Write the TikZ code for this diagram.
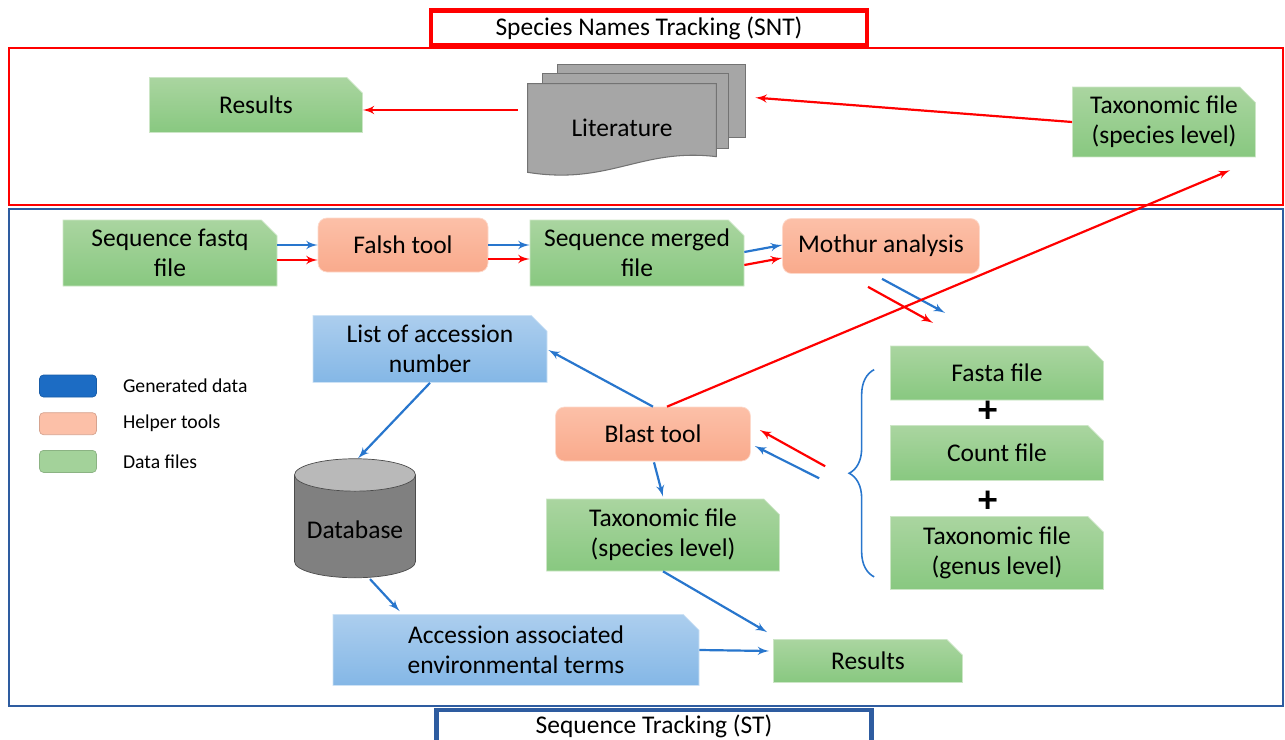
\documentclass[tikz,border=0pt]{standalone}
\usepackage{fontspec}
\setmainfont{Carlito}
\usetikzlibrary{shapes,arrows,positioning,calc,backgrounds,decorations.pathreplacing}
\definecolor{filetop}{RGB}{170,213,160}
\definecolor{filebot}{RGB}{136,200,128}
\definecolor{datatop}{RGB}{172,206,238}
\definecolor{databot}{RGB}{132,183,230}
\definecolor{tooltop}{RGB}{252,192,168}
\definecolor{toolbot}{RGB}{249,170,140}
\definecolor{lineblue}{RGB}{40,118,205}
\definecolor{linered}{RGB}{255,0,0}
\definecolor{frameblue}{RGB}{46,92,160}
\definecolor{legendblue}{RGB}{28,108,196}
\definecolor{pagegray}{RGB}{166,166,166}

\begin{document}
\begin{tikzpicture}[
	x=0.02cm, y=-0.02cm,
	>=latex',
	font=\fontsize{14.5}{17}\selectfont,
	sz/.style 2 args={
		minimum width=#1*0.02cm,
		minimum height=#2*0.02cm
	},
	card/.style={
		chamfered rectangle,
		chamfered rectangle corners=north east,
		chamfered rectangle xsep=0.2cm,
		top color=#1top,
		bottom color=#1bot,
		draw=#1top!60!white,
		align=center,
		inner sep=2pt
	},
	card/.default=file,
	helper/.style={
		rectangle,
		rounded corners=0.18cm,
		top color=tooltop,
		bottom color=toolbot,
		draw=tooltop!60!white,
		align=center
	},
	titlebox/.style={
		rectangle,
		fill=white,
		line width=2.4pt,
		inner sep=0pt
	},
	litpage/.style={
		fill=pagegray,
		draw=gray!90!black,
		line width=0.6pt
	},
	blueline/.style={
		draw=lineblue,
		-latex',
		line width=1.25pt
	},
	redline/.style={
		draw=linered,
		-latex',
		line width=1.25pt
	},
	legbox/.style={
		rectangle,
		rounded corners=0.08cm,
		sz={57}{22},
		fill=#1,
		draw=#1!85!black
	},
	legtext/.style={
		anchor=west,
		font=\fontsize{11.2}{13}\selectfont
	},
	plus/.style={
		font=\fontsize{22}{22}\selectfont\bfseries
	}
	]
	\useasboundingbox (0,0) rectangle (1285,740);
	
	% Species Names Tracking frame
	\draw[linered, line width=0.8pt] (9,48) rectangle (1283,205);
	\node[titlebox, draw=linered, sz={436}{35}] (snt) at (649,28) {Species Names Tracking (SNT)};
	
	\node[card, sz={213}{55}] (res1) at (256,105) {Results};
	\node[sz={188}{88}] (lit) at (622,128) {Literature};
	\node[card, sz={183}{69}] (taxsp1) at (1164,122) {Taxonomic file\\(species level)};
	
	% Literature pages
	\begin{scope}[on background layer]
		\foreach \dx/\dy/\w/\h in {30/-19/188/73, 15/-10/186/75}
			\draw[litpage] ($(lit.north west)+(\dx,\dy)$) rectangle ++(\w,\h);
		\draw[litpage] (lit.north west) -- (lit.north east) -- ($(lit.north east)+(0,73)$)
			.. controls ($(lit.north east)+(-76,64)$) and ($(lit.south west)+(82,13)$) .. (lit.south west) -- cycle;
	\end{scope}
	
	\path[redline] ($(lit.west)+(-10,-18)$) coordinate (litw) -- (litw -| res1.east);
	\path[redline] (taxsp1.west) -- ($(lit.north east)+(39,14)$);
	
	% Sequence Tracking frame
	\draw[frameblue, line width=0.8pt] (9,209) rectangle (1283,706);
	\node[titlebox, draw=frameblue, sz={435}{32}] (st) at (654,726) {Sequence Tracking (ST)};
	
	% Top row
	\node[card, sz={214}{66}] (fastq) at (170,253) {Sequence fastq\\file};
	\node[helper, sz={170}{54}] (falsh) at (403,245) {Falsh tool};
	\node[card, sz={214}{66}] (merged) at (637,253) {Sequence merged\\file};
	\node[helper, sz={197}{55}] (mothur) at (881,246) {Mothur analysis};
	
	\path[blueline] ($(fastq.east)+(0,-8)$) -- (falsh.west);
	\path[redline] ($(fastq.east)+(0,7)$) -- ($(falsh.west)+(0,15)$);
	\path[blueline] (falsh.east) -- ($(merged.west)+(0,-8)$);
	\path[redline] ($(falsh.east)+(0,14)$) -- ($(merged.west)+(0,6)$);
	\path[blueline] ($(merged.east)+(0,-1)$) -- ($(mothur.west)+(0,-1)$);
	\path[redline] ($(merged.east)+(0,12)$) -- ($(mothur.west)+(0,12)$);
	\path[blueline] ($(mothur.south)+(1,5)$) -- ($(mothur.south)+(64,39)$);
	\path[redline] ($(mothur.south)+(-13,13)$) -- ($(mothur.south)+(52,49)$);
	
	% Legend
	\node[legbox=legendblue] (lg1) at (68,386) {};
	\node[legtext, right=0.4cm of lg1] {Generated data};
	\node[legbox=tooltop, below=0.3cm of lg1] (lg2) {};
	\node[legtext, right=0.4cm of lg2] {Helper tools};
	\node[legbox=filetop!80!filebot, below=0.3cm of lg2] (lg3) {};
	\node[legtext, right=0.4cm of lg3] {Data files};
	
	% Blast part
	\node[card=data, sz={234}{67}] (listacc) at (430,349) {List of accession\\number};
	\node[helper, sz={195}{54}] (blast) at (653,434) {Blast tool};
	\node[card, sz={233}{72}] (taxsp2) at (663,535) {Taxonomic file\\(species level)};
	
	\node[card, sz={213}{54}] (fasta) at (997,373) {Fasta file};
	\node[plus] (plus1) at (988,412) {+};
	\node[card, sz={213}{55}] (count) at (997,453) {Count file};
	\node[plus] (plus2) at (988,502) {+};
	\node[card, sz={213}{73}] (taxgen) at (997,553) {Taxonomic file\\(genus level)};
	
	\coordinate (bb) at ($(taxgen.south west)+(-16,-13)$);
	\coordinate (bt) at ($(fasta.north west)+(-16,24)$);
	\coordinate (bm) at ($(bb)!0.5!(bt)+(-27,0)$);
	\draw[lineblue, line width=0.9pt, decorate, decoration={brace, amplitude=0.5cm}] (bb) -- (bt);
	
	\path[redline] ($(bm)+(-22,-7)$) -- ($(blast.east)+(9,-4)$);
	\path[blueline] ($(bm)+(-28,5)$) -- ($(blast.east)+(4,12)$);
	\path[redline] ($(blast.north)+(14,0)$) -- ($(taxsp1.south)+(66,13)$);
	\path[blueline] (blast.north) -- ($(listacc.east)+(1,1)$);
	\path[blueline] ($(blast.south)+(1,1)$) -- ($(taxsp2.north)+(0,-2)$);
	
	% Database part
	\node[cylinder, shape border rotate=90, aspect=0.3, sz={121}{119},
	cylinder uses custom fill, cylinder body fill=gray, cylinder end fill=gray!55,
	draw=gray!60!black] (db) at (355,530) {Database};
	\node[card=data, sz={366}{71}] (accenv) at (516,650) {Accession associated\\environmental terms};
	\node[card, sz={189}{43}] (res2) at (868,661) {Results};
	
	\path[blueline] (listacc.south) -- ($(db.north)+(3,0)$);
	\path[blueline] ($(db.south)+(15,1)$) -- ($(accenv.north west)+(67,-3)$);
	\path[blueline] (accenv.east) -- ($(res2.west)+(-4,-10)$);
	\path[blueline] (taxsp2.south) -- ($(res2.north west)+(-6,-7)$);
	
\end{tikzpicture}
\end{document}
